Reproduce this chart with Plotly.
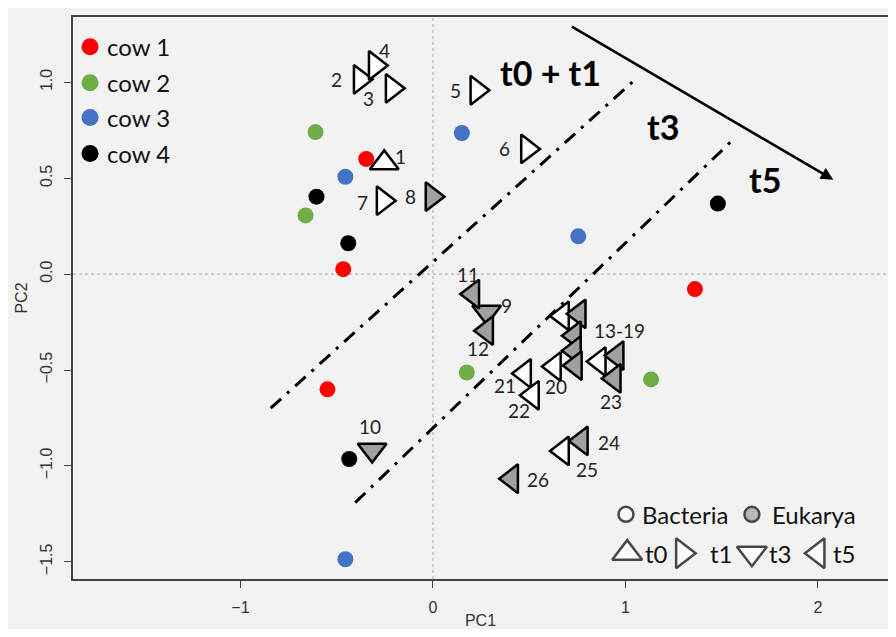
import plotly.graph_objects as go

# ---------------- data ----------------
cow_names = ["cow 1", "cow 2", "cow 3", "cow 4"]
cow_colors = ["#ff0000", "#70ad47", "#4472c4", "#000000"]
cow1_pc1 = [-0.347, -0.466, -0.548, 1.361]
cow1_pc2 = [0.601, 0.026, -0.601, -0.078]
cow2_pc1 = [-0.610, -0.662, 0.176, 1.133]
cow2_pc2 = [0.741, 0.306, -0.513, -0.549]
cow3_pc1 = [0.150, -0.455, 0.755, -0.455]
cow3_pc2 = [0.736, 0.508, 0.197, -1.487]
cow4_pc1 = [-0.605, -0.440, 1.480, -0.435]
cow4_pc2 = [0.404, 0.161, 0.368, -0.964]
cow_pc1 = [cow1_pc1, cow2_pc1, cow3_pc1, cow4_pc1]
cow_pc2 = [cow1_pc2, cow2_pc2, cow3_pc2, cow4_pc2]

sample_pc1 = [-0.253, -0.378, -0.212, -0.300, 0.228, 0.491, -0.259, -0.005,
              0.279, -0.316, 0.207, 0.279, 0.673, 0.760, 0.735, 0.735,
              0.740, 0.864, 0.957, 0.631, 0.476, 0.517, 0.942, 0.771,
              0.673, 0.409]
sample_pc2 = [0.580, 1.016, 0.969, 1.088, 0.959, 0.653, 0.383, 0.404,
              -0.197, -0.917, -0.104, -0.295, -0.218, -0.207, -0.321, -0.399,
              -0.477, -0.456, -0.425, -0.482, -0.518, -0.632, -0.544, -0.870,
              -0.922, -1.067]
sample_time = ["t0", "t1", "t1", "t1", "t1", "t1", "t1", "t1",
               "t3", "t3", "t5", "t5", "t5", "t5", "t5", "t5",
               "t5", "t5", "t5", "t5", "t5", "t5", "t5", "t5",
               "t5", "t5"]
sample_domain = ["Bacteria"] * 7 + ["Eukarya"] * 5 + \
    ["Bacteria", "Eukarya", "Eukarya", "Eukarya", "Eukarya", "Bacteria", "Eukarya",
     "Bacteria", "Bacteria", "Bacteria", "Eukarya", "Eukarya", "Bacteria", "Eukarya"]
sample_labels = ["1", "2", "3", "4", "5", "6", "7", "8", "9", "10", "11", "12",
                 "", "13-19", "", "", "", "", "", "20", "21", "22", "23", "24",
                 "25", "26"]

# boundary lines between time groups (PC1, PC2 endpoints)
sep1_pc1 = [-0.843, 1.045]
sep1_pc2 = [-0.699, 1.010]
sep2_pc1 = [-0.404, 1.568]
sep2_pc2 = [-1.192, 0.710]
# time-direction arrow (tail -> head)
arrow_pc1 = [0.714, 2.080]
arrow_pc2 = [1.295, 0.492]
zone_labels = ["t0 + t1", "t3", "t5"]
zone_pc1 = [0.610, 1.195, 1.723]
zone_pc2 = [1.052, 0.772, 0.492]

x_ticks = [-1, 0, 1, 2]
x_ticktext = ["\u22121", "0", "1", "2"]
y_ticks = [-1.5, -1.0, -0.5, 0.0, 0.5, 1.0]
y_ticktext = ["\u22121.5", "\u22121.0", "\u22120.5", "0.0", "0.5", "1.0"]

# ---------------- styles ----------------
symbol_map = {"t0": "triangle-up", "t1": "triangle-right",
              "t3": "triangle-down", "t5": "triangle-left"}
fill_map = {"Bacteria": "#ffffff", "Eukarya": "#a0a0a0"}
label_offsets = [(16, 6), (-24, 0), (-24, -10), (9, 15), (-21, 0), (-23, 0),
                 (-21, -2), (-21, 0), (20, 6), (-2, 23), (-5, 20), (-9, -18),
                 (0, 0), (40, -17), (0, 0), (0, 0), (0, 0), (0, 0), (0, 0),
                 (2, -20), (-20, -12), (-13, -15), (-3, -23), (28, -2),
                 (24, -19), (26, -1)]
BG = "#f2f2f2"
LBL_FONT = "Lato, 'Open Sans', sans-serif"

fig = go.Figure()

# separator lines
for xs, ys in [(sep1_pc1, sep1_pc2), (sep2_pc1, sep2_pc2)]:
    fig.add_trace(go.Scatter(x=xs, y=ys, mode="lines", hoverinfo="skip",
                             line=dict(color="black", width=3,
                                       dash="14px,8px,3px,8px"),
                             showlegend=False))

# cow points
for name, col, xs, ys in zip(cow_names, cow_colors, cow_pc1, cow_pc2):
    fig.add_trace(go.Scatter(x=xs, y=ys, mode="markers", name=name,
                             marker=dict(color=col, size=16, line=dict(width=0)),
                             showlegend=False))

# samples (one trace to keep drawing order)
fig.add_trace(go.Scatter(
    x=sample_pc1, y=sample_pc2, mode="markers", showlegend=False,
    marker=dict(symbol=[symbol_map[t] for t in sample_time],
                color=[fill_map[d] for d in sample_domain],
                size=25, line=dict(color="black", width=2.5))))

annotations = []
for x, y, lab, (dx, dy) in zip(sample_pc1, sample_pc2, sample_labels, label_offsets):
    if lab:
        annotations.append(dict(x=x, y=y, xref="x", yref="y", text=lab,
                                showarrow=False, xshift=dx, yshift=dy,
                                font=dict(family=LBL_FONT, size=19, color="#222")))

for t, x, y in zip(zone_labels, zone_pc1, zone_pc2):
    annotations.append(dict(x=x, y=y, xref="x", yref="y", text="<b>%s</b>" % t,
                            showarrow=False,
                            font=dict(family=LBL_FONT, size=34, color="black")))

annotations.append(dict(x=arrow_pc1[1], y=arrow_pc2[1], ax=arrow_pc1[0], ay=arrow_pc2[0],
                        xref="x", yref="y", axref="x", ayref="y", text="",
                        showarrow=True, arrowhead=2, arrowsize=1, arrowwidth=2.5,
                        arrowcolor="black", standoff=0))

# ---------- legends (paper / overlay axis) ----------
cow_leg_y = [0.947, 0.883, 0.821, 0.757]
fig.add_trace(go.Scatter(x=[0.0209] * 4, y=cow_leg_y, xaxis="x2", yaxis="y2",
                         mode="markers", showlegend=False, hoverinfo="skip",
                         marker=dict(color=cow_colors, size=17)))
for name, yy in zip(cow_names, cow_leg_y):
    annotations.append(dict(x=0.0393, y=yy, xref="paper", yref="paper", text=name,
                            xanchor="left", yanchor="middle", showarrow=False,
                            font=dict(family=LBL_FONT, size=24, color="#111")))

leg_x = [0.6785, 0.833, 0.680, 0.748, 0.833, 0.914]
leg_y = [0.115, 0.115, 0.046, 0.046, 0.046, 0.046]
leg_sym = ["circle", "circle", "triangle-up", "triangle-right", "triangle-down", "triangle-left"]
leg_col = ["#ffffff", "#a0a0a0", "#ffffff", "#ffffff", "#ffffff", "#ffffff"]
leg_size = [15, 15, 26, 26, 26, 26]
fig.add_trace(go.Scatter(x=leg_x, y=leg_y, xaxis="x2", yaxis="y2", mode="markers",
                         showlegend=False, hoverinfo="skip",
                         marker=dict(symbol=leg_sym, color=leg_col, size=leg_size,
                                     line=dict(color="black", width=2.5))))
leg_text = ["Bacteria", "Eukarya", "t0", "t1", "t3", "t5"]
leg_tx = [0.696, 0.855, 0.699, 0.779, 0.851, 0.930]
for t, x, y in zip(leg_text, leg_tx, leg_y):
    annotations.append(dict(x=x, y=y, xref="paper", yref="paper", text=t,
                            xanchor="left", yanchor="middle", showarrow=False,
                            font=dict(family=LBL_FONT, size=24, color="#111")))

shapes = [
    dict(type="line", xref="x", yref="paper", x0=0, x1=0, y0=0, y1=1, layer="below",
         line=dict(color="#aaaaaa", width=1, dash="dot")),
    dict(type="line", xref="paper", yref="y", x0=0, x1=1, y0=0, y1=0, layer="below",
         line=dict(color="#aaaaaa", width=1, dash="dot")),
]

axis_font = dict(family="'Liberation Sans', Arial, sans-serif", size=16, color="#333")
fig.update_layout(
    width=880, height=621,
    margin=dict(l=65, r=0, t=9, b=48),
    paper_bgcolor=BG, plot_bgcolor=BG,
    annotations=annotations, shapes=shapes,
    xaxis=dict(range=[-1.870, 2.364], tickvals=x_ticks, ticktext=x_ticktext,
               showgrid=False, zeroline=False, showline=True, mirror=True,
               linecolor="#444", linewidth=1.5, ticks="outside", ticklen=7,
               tickcolor="#444", tickfont=axis_font, ticklabelstandoff=6,
               title=dict(text="PC1", font=axis_font, standoff=2)),
    yaxis=dict(range=[-1.590, 1.341], tickvals=y_ticks, ticktext=y_ticktext,
               tickangle=-90, showgrid=False, zeroline=False, showline=True,
               linecolor="#444", linewidth=1.5, ticks="outside", ticklen=7,
               tickcolor="#444", tickfont=axis_font, ticklabelstandoff=6,
               title=dict(text="PC2", font=axis_font, standoff=6)),
    xaxis2=dict(range=[0, 1], overlaying="x", visible=False, fixedrange=True),
    yaxis2=dict(range=[0, 1], overlaying="y", visible=False, fixedrange=True),
    showlegend=False,
)

fig.write_html("out.html")
